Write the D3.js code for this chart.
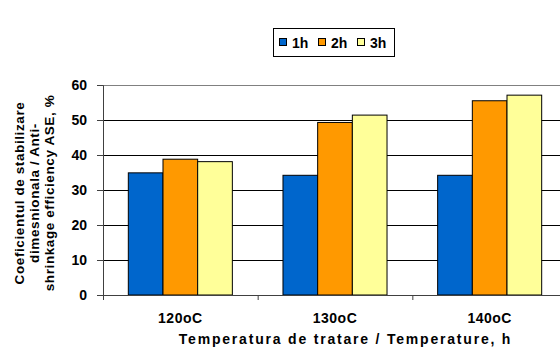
<!DOCTYPE html>
<html><head><meta charset="utf-8">
<script src="https://cdn.jsdelivr.net/npm/d3@7"></script>
<style>body{margin:0;background:#fff;}svg{display:block;font-family:Arial,"Liberation Sans",sans-serif;}</style>
</head><body>
<svg id="c" width="560" height="353"></svg>
<script>
const categories = ["120oC", "130oC", "140oC"];
const seriesNames = ["1h", "2h", "3h"];
const values1h = [34.9, 34.2, 34.2];
const values2h = [38.8, 49.3, 55.5];
const values3h = [38.1, 51.4, 57.1];
const yTicks = [0, 10, 20, 30, 40, 50, 60];
const colors = ["#0066CC", "#FF9900", "#FFFF99"];
const series = [values1h, values2h, values3h];

const svg = d3.select("#c");
const L = 103, R = 567, T = 85, B = 295;
const FF = "Arial, 'Liberation Sans', sans-serif";
const x = d3.scaleBand().domain(categories).range([L, R]).paddingInner(0).paddingOuter(0);
const xs = d3.scaleBand().domain(seriesNames).range([0, x.bandwidth()]).paddingInner(0).paddingOuter(0.73);
const y = d3.scaleLinear().domain([0, 60]).range([B, T]);

// gridlines
svg.append("g").selectAll("line").data(yTicks.filter(d => d > 0 && d < 60)).join("line")
  .attr("x1", L).attr("x2", R).attr("y1", d => y(d) + 0.5).attr("y2", d => y(d) + 0.5)
  .attr("stroke", "#000").attr("stroke-width", 1);
// top border
svg.append("line").attr("x1", L).attr("x2", R).attr("y1", T + 0.5).attr("y2", T + 0.5)
  .attr("stroke", "#808080").attr("stroke-width", 1.2);

// bars
seriesNames.forEach((s, i) => {
  svg.append("g").selectAll("rect").data(categories).join("rect")
    .attr("x", c => x(c) + xs(s))
    .attr("y", (c, j) => y(series[i][j]))
    .attr("width", xs.bandwidth())
    .attr("height", (c, j) => B - y(series[i][j]))
    .attr("fill", colors[i]).attr("stroke", "#000").attr("stroke-width", 1);
});

// y axis
const ya = d3.axisLeft(y).tickValues(yTicks).tickSize(6).tickPadding(10);
const gy = svg.append("g").attr("transform", `translate(${L},0)`).call(ya);
gy.select(".domain").attr("stroke", "#404040");
gy.selectAll(".tick line").attr("stroke", "#404040");
gy.selectAll("text").attr("font-size", 14).attr("font-weight", "bold").attr("fill", "#000")
  .attr("font-family", FF);

// x axis
const xa = d3.axisBottom(x).tickSize(0).tickPadding(18);
const gx = svg.append("g").attr("transform", `translate(0,${B})`).call(xa);
gx.select(".domain").attr("stroke", "#404040");
gx.selectAll("text").attr("font-size", 14).attr("font-weight", "bold").attr("fill", "#000")
  .attr("letter-spacing", 0.5).attr("font-family", FF);
// category boundary ticks
svg.append("g").selectAll("line").data(categories).join("line")
  .attr("x1", c => x(c) + 0.5).attr("x2", c => x(c) + 0.5)
  .attr("y1", B).attr("y2", B + 5).attr("stroke", "#404040");

// axis titles
svg.append("text").attr("x", 345.5).attr("y", 344).attr("text-anchor", "middle")
  .attr("font-size", 14).attr("font-weight", "bold").attr("letter-spacing", 1.8)
  .text("Temperatura de tratare / Temperature, h");
const yt = svg.append("text").attr("transform", "translate(0,193) rotate(-90)")
  .attr("text-anchor", "middle").attr("font-size", 13.5).attr("font-weight", "bold")
  .attr("letter-spacing", 0.6);
["Coeficientul de stabilizare", "dimesnionala / Anti-", "shrinkage efficiency ASE, %"].forEach((t, i) => {
  yt.append("tspan").attr("x", 0).attr("y", 24 + i * 15).text(t);
});

// legend
const lg = svg.append("g");
lg.append("rect").attr("x", 273.5).attr("y", 28.5).attr("width", 121).attr("height", 28)
  .attr("fill", "#fff").attr("stroke", "#000").attr("stroke-width", 1);
const lx = [279, 318, 357];
seriesNames.forEach((s, i) => {
  lg.append("rect").attr("x", lx[i] + 0.5).attr("y", 38.5).attr("width", 7).attr("height", 7)
    .attr("fill", colors[i]).attr("stroke", "#000");
  lg.append("text").attr("x", lx[i] + 13).attr("y", 47.5).attr("font-size", 14)
    .attr("font-weight", "bold").text(s);
});
</script>
</body></html>
